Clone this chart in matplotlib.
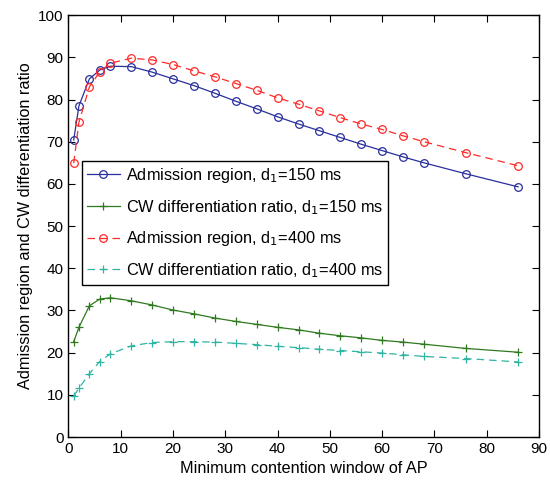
import matplotlib
matplotlib.use("Agg")
import matplotlib.pyplot as plt

plt.rcParams['font.family'] = ['Liberation Sans', 'DejaVu Sans']

cw = [1, 2, 4, 6, 8, 12, 16, 20, 24, 28, 32, 36, 40, 44, 48, 52, 56, 60, 64, 68, 76, 86]

adm_150 = [70.4, 78.5, 84.9, 87.0, 87.9, 87.8, 86.5, 84.9, 83.3, 81.5, 79.6, 77.8,
           75.9, 74.2, 72.6, 71.0, 69.4, 67.9, 66.4, 65.0, 62.4, 59.3]
cwr_150 = [22.6, 26.0, 31.1, 32.7, 33.0, 32.3, 31.3, 30.1, 29.2, 28.2, 27.4, 26.7,
           26.0, 25.4, 24.6, 24.0, 23.5, 22.9, 22.5, 22.0, 21.0, 20.1]
adm_400 = [64.9, 74.6, 83.0, 86.6, 88.6, 89.8, 89.4, 88.3, 86.8, 85.4, 83.8, 82.2,
           80.4, 78.9, 77.3, 75.7, 74.2, 72.9, 71.4, 70.0, 67.4, 64.3]
cwr_400 = [9.7, 11.6, 15.0, 17.9, 19.7, 21.6, 22.4, 22.6, 22.6, 22.5, 22.2, 21.9,
           21.5, 21.2, 20.8, 20.5, 20.2, 19.9, 19.5, 19.1, 18.6, 17.8]

labels = ['Admission region, d$_1$=150 ms',
          'CW differentiation ratio, d$_1$=150 ms',
          'Admission region, d$_1$=400 ms',
          'CW differentiation ratio, d$_1$=400 ms']

fig = plt.figure(figsize=(5.5, 4.86), dpi=100)
ax = fig.add_axes([0.1245, 0.1008, 0.8555, 0.868])

ms_o, ms_p = 5.5, 5.5
ax.plot(cw, adm_150, '-', color='#2a2f9c', marker='o', markersize=ms_o,
        markerfacecolor='none', markeredgewidth=0.9, linewidth=0.9, label=labels[0])
ax.plot(cw, cwr_150, '-', color='#2f7a1f', marker='+', markersize=ms_p,
        markeredgewidth=0.9, linewidth=0.9, label=labels[1])
ax.plot(cw, adm_400, '--', color='#ff2a2a', marker='o', markersize=ms_o,
        markerfacecolor='none', markeredgewidth=0.9, linewidth=0.9,
        dashes=(6, 4), label=labels[2])
ax.plot(cw, cwr_400, '--', color='#30b5a3', marker='+', markersize=ms_p,
        markeredgewidth=0.9, linewidth=0.9, dashes=(6, 4), label=labels[3])

ax.set_xlim(0, 90)
ax.set_ylim(0, 100)
ax.set_xticks(range(0, 91, 10))
ax.set_yticks(range(0, 101, 10))
ax.tick_params(direction='in', top=True, right=True, length=5, width=0.8,
               labelsize=11)
for s in ax.spines.values():
    s.set_linewidth(1.0)

ax.set_xlabel('Minimum contention window of AP', fontsize=11.7)
ax.set_ylabel('Admission region and CW differentiation ratio', fontsize=11.7)

leg = ax.legend(loc='upper left', bbox_to_anchor=(0.0287, 0.654), borderaxespad=0,
                fontsize=11.8, fancybox=False, edgecolor='black', framealpha=1,
                handlelength=2.0, labelspacing=0.78, handletextpad=0.4,
                borderpad=0.3)
leg.get_frame().set_linewidth(1.0)

fig.savefig('out.png', dpi=100)
